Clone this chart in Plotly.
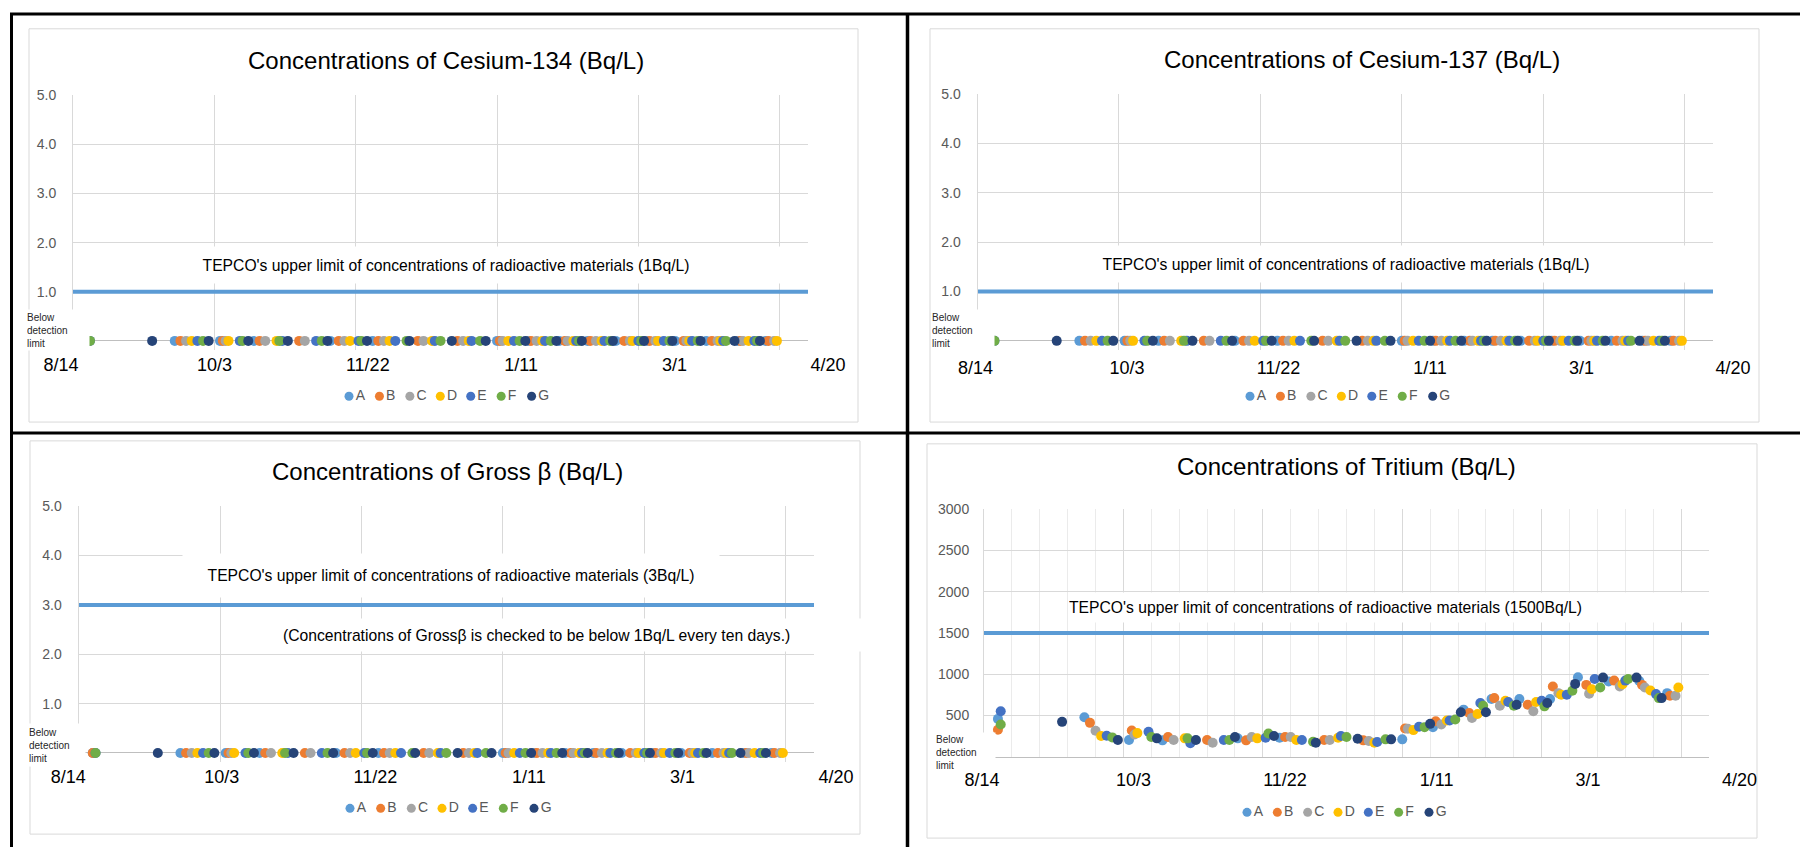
import plotly.graph_objects as go

W, H = 1800, 847
FONT = "Liberation Sans, Arial, sans-serif"

# ---------------- data ----------------
SERIES = ["A", "B", "C", "D", "E", "F", "G"]
COLORS = ["#5B9BD5", "#ED7D31", "#A5A5A5", "#FFC000", "#4472C4", "#70AD47", "#264478"]

A_DATES = ["2015-08-19", "2015-09-19", "2015-10-05", "2015-10-17", "2015-11-13", "2015-11-28",
           "2016-01-11", "2016-01-22", "2016-02-02", "2016-02-12", "2016-02-22", "2016-03-04",
           "2016-03-14", "2016-03-25", "2016-04-05", "2016-04-15"]
A_TRITIUM = [460, 480, 204, 200, 224, 232, 212, 360, 572, 700, 700, 700, 964, 912, 920, 772]

B_DATES = ["2015-08-19", "2015-09-21", "2015-10-06", "2015-10-19", "2015-11-02", "2015-11-16",
           "2015-11-30", "2015-12-14", "2015-12-28", "2016-01-12", "2016-01-23", "2016-02-04",
           "2016-02-13", "2016-02-25", "2016-03-05", "2016-03-17", "2016-03-27", "2016-04-06",
           "2016-04-16"]
B_TRITIUM = [328, 412, 320, 240, 204, 200, 240, 204, 200, 344, 432, 532, 712, 632, 852, 872, 924, 872, 740]

C_DATES = ["2015-09-23", "2015-10-07", "2015-10-21", "2015-11-04", "2015-11-18", "2015-12-02",
           "2015-12-16", "2015-12-30", "2016-01-13", "2016-01-25", "2016-02-05", "2016-02-15",
           "2016-02-27", "2016-03-07", "2016-03-18", "2016-03-29", "2016-04-07", "2016-04-18"]
C_TRITIUM = [316, 272, 204, 172, 240, 240, 204, 192, 340, 392, 472, 620, 552, 772, 764, 852, 840, 740]

D_DATES = ["2015-09-25", "2015-10-08", "2015-10-25", "2015-11-20", "2015-12-04", "2015-12-19",
           "2016-01-01", "2016-01-15", "2016-01-27", "2016-02-07", "2016-02-17", "2016-02-28",
           "2016-03-08", "2016-03-19", "2016-03-30", "2016-04-09", "2016-04-19"]
D_TRITIUM = [252, 288, 224, 224, 204, 232, 172, 324, 440, 520, 680, 664, 752, 820, 880, 804, 840]

E_DATES = ["2015-08-20", "2015-09-27", "2015-10-12", "2015-10-27", "2015-11-08", "2015-11-23",
           "2015-12-06", "2015-12-20", "2016-01-02", "2016-01-17", "2016-01-28", "2016-02-08",
           "2016-02-18", "2016-03-01", "2016-03-10", "2016-03-20", "2016-03-31", "2016-04-11"]
E_TRITIUM = [552, 256, 304, 164, 204, 232, 204, 252, 180, 364, 440, 652, 664, 680, 752, 944, 924, 760]

F_DATES = ["2015-08-20", "2015-09-29", "2015-10-13", "2015-10-26", "2015-11-10", "2015-11-24",
           "2015-12-10", "2015-12-22", "2016-01-05", "2016-01-19", "2016-01-30", "2016-02-09",
           "2016-02-20", "2016-03-02", "2016-03-12", "2016-03-22", "2016-04-01", "2016-04-12"]
F_TRITIUM = [392, 236, 240, 224, 204, 284, 184, 240, 212, 360, 452, 620, 620, 612, 800, 840, 944, 712]

G_DATES = ["2015-09-11", "2015-10-01", "2015-10-15", "2015-10-29", "2015-11-12", "2015-11-26",
           "2015-12-11", "2015-12-26", "2016-01-07", "2016-01-21", "2016-02-01", "2016-02-10",
           "2016-02-21", "2016-03-03", "2016-03-13", "2016-03-23", "2016-04-04", "2016-04-13"]
G_TRITIUM = [424, 204, 224, 204, 240, 252, 172, 220, 212, 400, 540, 540, 632, 652, 884, 960, 960, 712]

DATES = [A_DATES, B_DATES, C_DATES, D_DATES, E_DATES, F_DATES, G_DATES]
TRITIUM = [A_TRITIUM, B_TRITIUM, C_TRITIUM, D_TRITIUM, E_TRITIUM, F_TRITIUM, G_TRITIUM]

# Cs-134, Cs-137 and gross beta: every result was below the detection limit
BELOW_DETECTION = 0.0

X_START, X_END = "2015-08-14", "2016-04-30"
TICK_DATES = ["2015-08-14", "2015-10-03", "2015-11-22", "2016-01-11", "2016-03-01", "2016-04-20"]
TICK_LABELS = ["8/14", "10/3", "11/22", "1/11", "3/1", "4/20"]

SMALL_TICKS = [1, 2, 3, 4, 5]
SMALL_TICK_LABELS = ["1.0", "2.0", "3.0", "4.0", "5.0"]
TRITIUM_TICKS = [500, 1000, 1500, 2000, 2500, 3000]
TRITIUM_TICK_LABELS = ["500", "1000", "1500", "2000", "2500", "3000"]

TITLES = ["Concentrations of Cesium-134 (Bq/L)", "Concentrations of Cesium-137 (Bq/L)",
          "Concentrations of Gross β (Bq/L)", "Concentrations of Tritium (Bq/L)"]
LIMITS = [1, 1, 3, 1500]
LIMIT_TEXTS = ["TEPCO's upper limit of concentrations of radioactive materials (1Bq/L)",
               "TEPCO's upper limit of concentrations of radioactive materials (1Bq/L)",
               "TEPCO's upper limit of concentrations of radioactive materials (3Bq/L)",
               "TEPCO's upper limit of concentrations of radioactive materials (1500Bq/L)"]
BETA_NOTE = "(Concentrations of Grossβ is checked to be below 1Bq/L every ten days.)"
BELOW_TEXT = "Below<br>detection<br>limit"

# ---------------- layout geometry (pixels) ----------------
PANELS = [
    dict(plot_x=(73, 808), plot_y=(88, 345), yr=[-0.18, 5], trit=False,
         lab_x=(61, 828), lab_y=362, leg_x=(349, 531.6), leg_y=392,
         title=(446, 53), lim=dict(x=446, y=259, w=680, h=36, anchor="center"),
         below=dict(x=26, y=325, w=62, h=40), area=(29, 21, 858, 418)),
    dict(plot_x=(977.5, 1713), plot_y=(87, 345), yr=[-0.18, 5], trit=False,
         lab_x=(975.5, 1733), lab_y=365, leg_x=(1250, 1432.7), leg_y=392,
         title=(1362, 52), lim=dict(x=1346, y=258, w=680, h=36, anchor="center"),
         below=dict(x=931, y=325, w=62, h=40), area=(930, 21, 1759, 418)),
    dict(plot_x=(78.6, 814), plot_y=(503, 761), yr=[-0.18, 5], trit=False,
         lab_x=(68.3, 836), lab_y=778, leg_x=(350, 534), leg_y=808,
         title=(447, 468), lim=dict(x=451, y=573, w=536, h=43, anchor="center"),
         below=dict(x=28, y=744, w=56, h=42), area=(30, 437, 860, 834)),
    dict(plot_x=(984, 1709), plot_y=(506, 756), yr=[0, 3000], trit=True,
         lab_x=(982, 1739.6), lab_y=781, leg_x=(1247, 1429), leg_y=812,
         title=(1346, 463), lim=dict(x=1068, y=605, w=641, h=29, anchor="left"),
         below=dict(x=935, y=751, w=59, h=38), area=(927, 440, 1757, 838)),
]

GRID = "#D9D9D9"
MINOR_GRID = "#EBEBEB"
BASE = "#BFBFBF"
TICK_COLOR = "#595959"
DAY = 86400000


def px(v):
    return v / W


def py(v):
    return 1 - v / H


def names(n):
    return (("xaxis" if n == 1 else f"xaxis{n}"), ("yaxis" if n == 1 else f"yaxis{n}"),
            ("x" if n == 1 else f"x{n}"), ("y" if n == 1 else f"y{n}"))


fig = go.Figure()
layout = {}
annotations = []
shapes = []

for i, p in enumerate(PANELS):
    n_main, n_lab, n_leg = 3 * i + 1, 3 * i + 2, 3 * i + 3
    xk, yk, xr, yr_ = names(n_main)

    xaxis = dict(type="date", domain=[px(p["plot_x"][0]), px(p["plot_x"][1])], anchor=yr_,
                 range=[X_START, X_END], tick0=X_START, dtick=50 * DAY, showticklabels=False,
                 ticks="", showgrid=True, gridcolor=GRID, gridwidth=1, zeroline=False,
                 showline=False, fixedrange=True)
    if p["trit"]:
        xaxis.update(minor=dict(tick0=X_START, dtick=10 * DAY, showgrid=True,
                                gridcolor=MINOR_GRID, gridwidth=1, ticks=""),
                     showline=True, linecolor=BASE, linewidth=1)
        tv, tt, standoff = TRITIUM_TICKS, TRITIUM_TICK_LABELS, 11
    else:
        tv, tt, standoff = SMALL_TICKS, SMALL_TICK_LABELS, 13
    yaxis = dict(domain=[py(p["plot_y"][1]), py(p["plot_y"][0])], anchor=xr, range=p["yr"],
                 tickvals=tv, ticktext=tt, tickfont=dict(size=14, color=TICK_COLOR, family=FONT),
                 ticklabelstandoff=standoff, ticks="", showgrid=True, gridcolor=GRID, gridwidth=1,
                 zeroline=not p["trit"], zerolinecolor=BASE, zerolinewidth=1,
                 showline=True, linecolor=GRID, linewidth=1, fixedrange=True)
    layout[xk] = xaxis
    layout[yk] = yaxis

    # limit line
    fig.add_trace(go.Scatter(x=[X_START, X_END], y=[LIMITS[i], LIMITS[i]], mode="lines",
                             line=dict(color="#5B9BD5", width=4), xaxis=xr, yaxis=yr_,
                             hoverinfo="skip", showlegend=False))
    # measurements
    for s, name in enumerate(SERIES):
        yvals = TRITIUM[s] if p["trit"] else [BELOW_DETECTION] * len(DATES[s])
        fig.add_trace(go.Scatter(x=DATES[s], y=yvals, mode="markers", name=name,
                                 marker=dict(size=10, color=COLORS[s], line=dict(width=0)),
                                 cliponaxis=False, xaxis=xr, yaxis=yr_, showlegend=False))

    # date labels row (separate text boxes in the original)
    xk2, yk2, xr2, yr2 = names(n_lab)
    layout[xk2] = dict(type="date", domain=[px(p["lab_x"][0]), px(p["lab_x"][1])],
                       range=[TICK_DATES[0], TICK_DATES[-1]], visible=False, anchor=yr2,
                       fixedrange=True)
    layout[yk2] = dict(domain=[py(p["lab_y"] + 10), py(p["lab_y"] - 10)], range=[-1, 1],
                       visible=False, anchor=xr2, fixedrange=True)
    fig.add_trace(go.Scatter(x=TICK_DATES, y=[0] * len(TICK_DATES), mode="text",
                             text=TICK_LABELS, textposition="middle center",
                             textfont=dict(size=18, color="#000000", family=FONT),
                             cliponaxis=False, xaxis=xr2, yaxis=yr2, showlegend=False,
                             hoverinfo="skip"))

    # legend row
    xk3, yk3, xr3, yr3 = names(n_leg)
    layout[xk3] = dict(domain=[px(p["leg_x"][0]), px(p["leg_x"][1])],
                       range=[0, len(SERIES) - 1], visible=False, anchor=yr3, fixedrange=True)
    layout[yk3] = dict(domain=[py(p["leg_y"] + 10), py(p["leg_y"] - 10)], range=[-1, 1],
                       visible=False, anchor=xr3, fixedrange=True)
    fig.add_trace(go.Scatter(x=list(range(len(SERIES))), y=[0] * len(SERIES),
                             mode="markers+text", text=SERIES, textposition="middle right",
                             marker=dict(size=9, color=COLORS),
                             textfont=dict(size=14, color=TICK_COLOR, family=FONT),
                             cliponaxis=False, xaxis=xr3, yaxis=yr3, showlegend=False,
                             hoverinfo="skip"))

    # title
    annotations.append(dict(x=px(p["title"][0]), y=py(p["title"][1]), xref="paper", yref="paper",
                            text=TITLES[i], showarrow=False, xanchor="center", yanchor="middle",
                            font=dict(size=24, color="#000000", family=FONT)))
    # limit label (white text box)
    lim = p["lim"]
    annotations.append(dict(x=px(lim["x"]), y=py(lim["y"]), xref="paper", yref="paper",
                            text=LIMIT_TEXTS[i], showarrow=False, xanchor=lim["anchor"],
                            yanchor="middle", align="left" if lim["anchor"] == "left" else "center",
                            width=lim["w"], height=lim["h"], bgcolor="white", borderpad=0,
                            font=dict(size=15.7, color="#000000", family=FONT)))
    # below detection limit label
    b = p["below"]
    annotations.append(dict(x=px(b["x"]), y=py(b["y"]), xref="paper", yref="paper",
                            text=BELOW_TEXT, showarrow=False, xanchor="left", yanchor="middle",
                            align="left", valign="middle", width=b["w"], height=b["h"],
                            bgcolor="white", borderpad=0,
                            font=dict(size=10, color="#262626", family=FONT)))
    # chart area border
    a = p["area"]
    shapes.append(dict(type="rect", xref="paper", yref="paper", x0=px(a[0]), x1=px(a[2]),
                       y0=py(a[3]), y1=py(a[1]), line=dict(color=GRID, width=1), layer="below"))

# gross beta note
annotations.append(dict(x=px(282), y=py(633), xref="paper", yref="paper", text=BETA_NOTE,
                        showarrow=False, xanchor="left", yanchor="middle", align="left",
                        width=580, height=32, bgcolor="white", borderpad=0,
                        font=dict(size=15.7, color="#000000", family=FONT)))

# black frame lines
for (x0, y0, x1, y1, w) in [(10, 6, 1800, 6, 3), (11.5, 5, 11.5, 847, 3),
                            (907.5, 5, 907.5, 847, 3.5), (10, 429, 1800, 429, 3)]:
    shapes.append(dict(type="line", xref="paper", yref="paper", x0=px(x0), x1=px(x1),
                       y0=py(y0), y1=py(y1), line=dict(color="#000000", width=w), layer="above"))

fig.update_layout(width=W, height=H, autosize=False, margin=dict(l=0, r=0, t=0, b=0, pad=0),
                  paper_bgcolor="white", plot_bgcolor="rgba(0,0,0,0)", showlegend=False,
                  hovermode=False, font=dict(family=FONT), annotations=annotations,
                  shapes=shapes, **layout)

POST = ("document.documentElement.style.margin='0';document.body.style.margin='0';"
        "document.body.style.padding='0';document.body.style.overflow='hidden';"
        "var gd=document.getElementById('{plot_id}');gd.style.position='absolute';"
        "gd.style.left='0px';gd.style.top='0px';")

fig.write_html("out.html", post_script=POST,
               config={"displayModeBar": False, "staticPlot": True})
